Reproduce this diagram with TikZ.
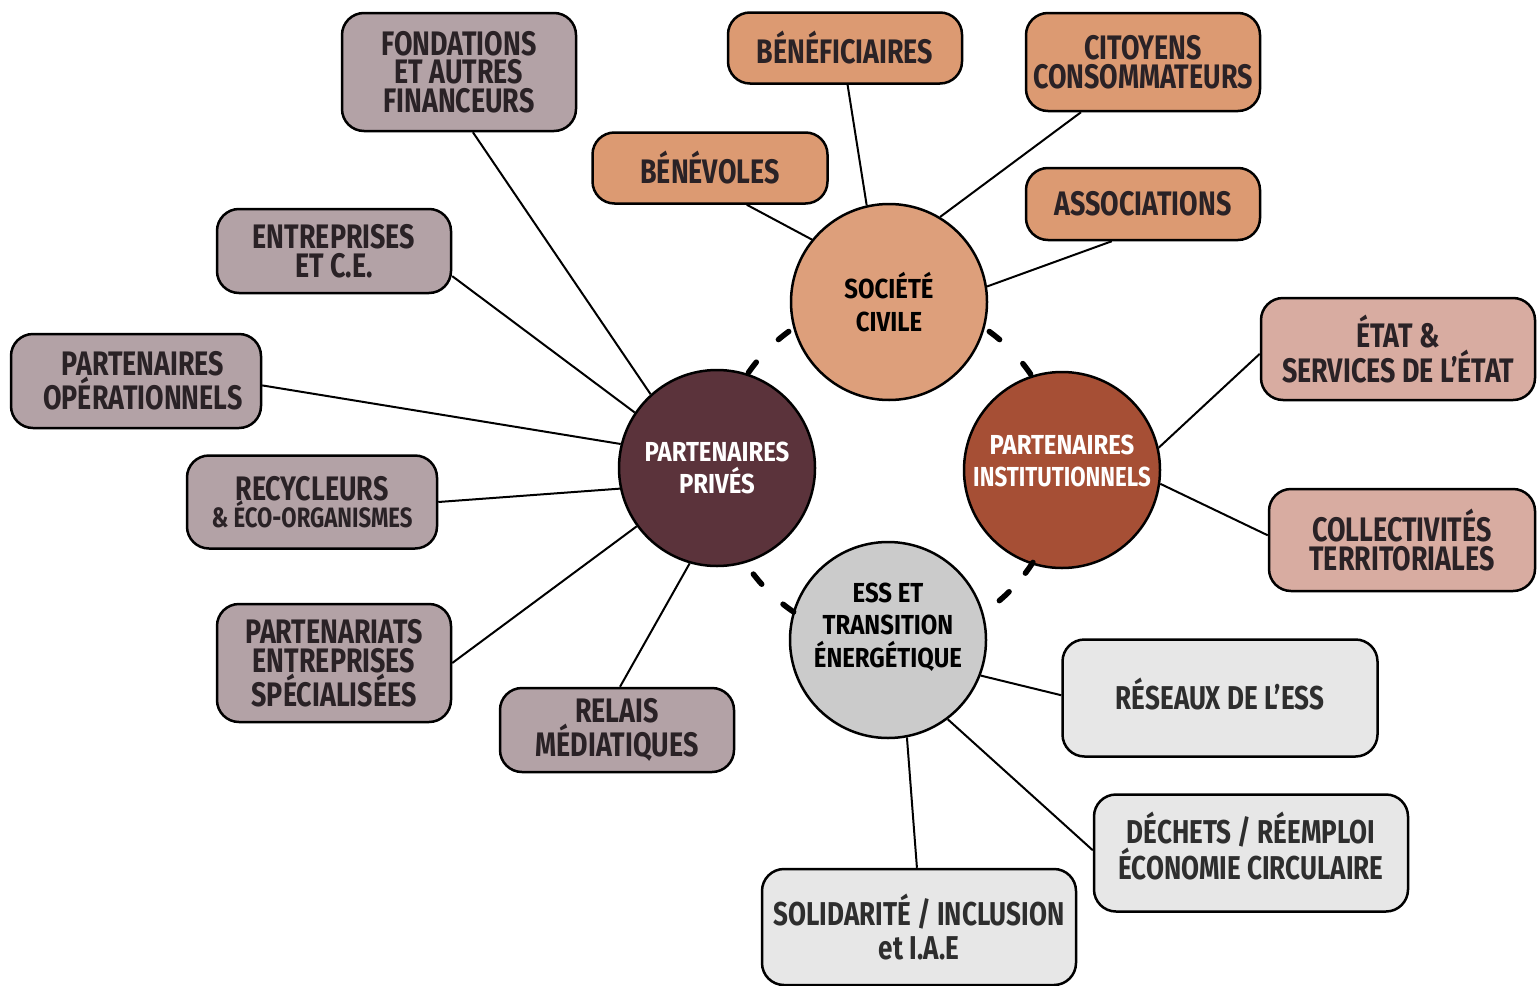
\documentclass[tikz,border=0pt]{standalone}
\usepackage{fontspec}
\usetikzlibrary{calc}
\setmainfont{Fira Sans}[FakeStretch=0.79]
\newfontfamily\circfam{Fira Sans}[FakeStretch=0.87]
\definecolor{privlight}{HTML}{B3A2A6}
\definecolor{privdark}{HTML}{5B333B}
\definecolor{soclight}{HTML}{DC9A72}
\definecolor{soccirc}{HTML}{DD9F7B}
\definecolor{instdark}{HTML}{A64F35}
\definecolor{instlight}{HTML}{D8ACA1}
\definecolor{esscirc}{HTML}{CBCBCB}
\definecolor{esslight}{HTML}{E7E7E7}
\definecolor{boxtext}{HTML}{2A2226}
\definecolor{esstext}{HTML}{2E2E2E}
\newcommand{\boxfont}{\bfseries\fontsize{34}{28.5}\selectfont}
\newcommand{\essfont}{\fontsize{33}{34}\selectfont\bfseries}
\newcommand{\circfont}{\circfam\bfseries\fontsize{27.5}{32.5}\selectfont}
\newcommand{\smallboxfont}{\bfseries\fontsize{28}{28}\selectfont}
\tikzset{
  box/.style={draw=black, line width=2.5pt, rounded corners=22pt, align=center,
    inner sep=0pt, text=boxtext, font=\boxfont},
  privbox/.style={box, fill=privlight},
  socbox/.style={box, fill=soclight},
  instbox/.style={box, fill=instlight},
  essbox/.style={box, fill=esslight, font=\essfont, text=esstext},
  boxlbl/.style={align=center, inner sep=0pt, text=boxtext, font=\boxfont},
  esslbl/.style={align=center, inner sep=0pt, text=esstext, font=\essfont},
  hubc/.style={circle, draw=black, line width=2.5pt, minimum size=196pt, inner sep=0pt},
  hubtext/.style={align=center, font=\circfont, inner sep=0pt},
  link/.style={line width=2pt, draw=black},
  dashseg/.style={line width=5.5pt, line cap=round, draw=black}
}
\begin{document}
\begin{tikzpicture}[x=1pt,y=1pt]
\useasboundingbox (0,0) rectangle (1538,-985);
\fill[white] (0,0) rectangle (1538,-985);

% hub circles
\node[hubc, fill=soccirc] (soc) at (889,-302) {};
\node[hubtext, text=black] (soct) at (soc.center) {SOCIÉTÉ\\CIVILE};
\node[hubc, fill=privdark] (priv) at (717,-468) {};
\node[hubtext, text=white] (privt) at (priv.center) {PARTENAIRES\\PRIVÉS};
\node[hubc, fill=instdark] (inst) at (1062,-470) {};
\node[hubtext, text=white] (instt) at ([yshift=9pt]inst.center) {PARTENAIRES\\\scalebox{0.93}[1]{INSTITUTIONNELS}};
\node[hubc, fill=esscirc] (ess) at (888,-640) {};
\node[hubtext, text=black] (esst) at ([yshift=13pt]ess.center) {ESS ET\\TRANSITION\\ÉNERGÉTIQUE};
\coordinate (hub) at (889,-470);

% private partners boxes
\node[privbox, minimum width=234pt, minimum height=118pt] (fond) at (459,-72) {FONDATIONS\\ET AUTRES\\FINANCEURS};
\node[privbox, minimum width=234pt, minimum height=84pt] (entr) at (334,-251) {ENTREPRISES\\ET C.E.};
\node[privbox, minimum width=250pt, minimum height=94pt] (opera) at (136,-381) {};
\node[boxlbl] (operat) at ([xshift=7pt]opera.center) {PARTENAIRES\\OPÉRATIONNELS};
\node[privbox, minimum width=250pt, minimum height=93pt] (recy) at (312,-502) {RECYCLEURS\\[-1pt]{\smallboxfont \& ÉCO-ORGANISMES}};
\node[privbox, minimum width=234pt, minimum height=118pt] (ptnr) at (334,-663) {PARTENARIATS\\ENTREPRISES\\SPÉCIALISÉES};
\node[privbox, minimum width=234pt, minimum height=84pt] (relais) at (617,-730) {RELAIS\\MÉDIATIQUES};

% civil society boxes
\node[socbox, minimum width=234pt, minimum height=71pt] (benef) at (845,-48) {BÉNÉFICIAIRES};
\node[socbox, minimum width=234pt, minimum height=98pt] (cito) at (1143,-62) {CITOYENS\\CONSOMMATEURS};
\node[socbox, minimum width=235pt, minimum height=71pt] (benev) at (710,-168) {BÉNÉVOLES};
\node[socbox, minimum width=234pt, minimum height=72pt] (assoc) at (1143,-204) {ASSOCIATIONS};

% institutional boxes
\node[instbox, minimum width=274pt, minimum height=102pt] (etat) at (1398,-349) {ÉTAT \&\\SERVICES DE L’ÉTAT};
\node[instbox, minimum width=266pt, minimum height=102pt] (coll) at (1402,-540) {COLLECTIVITÉS\\TERRITORIALES};

% ESS boxes
\node[essbox, minimum width=315pt, minimum height=117pt] (reseau) at (1220,-698) {};
\node[esslbl] (reseaut) at ([yshift=4pt]reseau.center) {RÉSEAUX DE L’ESS};
\node[essbox, minimum width=314pt, minimum height=117pt] (dechets) at (1251,-853) {};
\node[esslbl] (dechetst) at ([yshift=7pt]dechets.center) {DÉCHETS / RÉEMPLOI\\ÉCONOMIE CIRCULAIRE};
\node[essbox, minimum width=314pt, minimum height=116pt] (solid) at (919,-927) {SOLIDARITÉ / INCLUSION\\et I.A.E};

% connectors
\draw[link] (fond.-77.6) -- (priv.132);
\draw[link] (entr.-12.9) -- (priv.146.6);
\draw[link] (opera.-2.7) -- (priv.166.8);
\draw[link] (recy.0) -- (priv.192.7);
\draw[link] (ptnr.0.5) -- (priv.216.5);
\draw[link] (relais.86) -- (priv.254.1);
\draw[link] (benef.-86.8) -- (soc.103.5);
\draw[link] (cito.219.2) -- (soc.59.3);
\draw[link] (benev.-45.8) -- (soc.141.2);
\draw[link] (assoc.230.2) -- (soc.9.8);
\draw[link] (etat.182.5) -- (inst.13.8);
\draw[link] (coll.178.7) -- (inst.-8.1);
\draw[link] (reseau.179.6) -- (ess.-21);
\draw[link] (dechets.179.6) -- (ess.-53.2);
\draw[link] (solid.92) -- (ess.-79.5);

% dashed ring segments between hubs
\foreach \a in {128.1,143.1,51.9,36.3,-34.9,-47.6,219.7,233.9}{
  \draw[dashseg] ($(hub)+(\a-2.2:171)$) arc[start angle=\a-2.2, end angle=\a+2.2, radius=171];
}
\end{tikzpicture}
\end{document}
